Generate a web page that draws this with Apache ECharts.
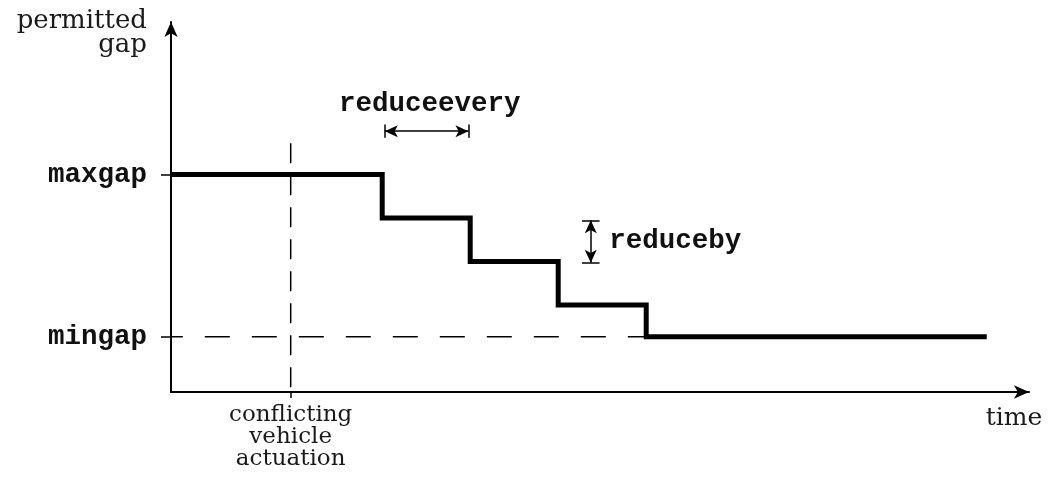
<!DOCTYPE html>
<html><head><meta charset="utf-8">
<script src="https://cdn.jsdelivr.net/npm/echarts@6/dist/echarts.min.js"></script>
<style>html,body{margin:0;padding:0;background:#fff}#c{width:1053px;height:479px}</style>
</head><body><div id="c"></div>
<script>
// ---- data ----
const stepTimes = [0, 2.4, 3.4, 4.4, 5.4, 9.27];
const gapLevels = [5, 4, 3, 2, 1.27, 1.27];
const maxgap = 5;
const mingap = 1.27;
const conflictTime = 1.36;
const yTickValues = [1.27, 5];
const yTickLabels = {'1.27': 'mingap', '5': 'maxgap'};
const xTickValues = [1.36];
const xTickLabels = ['conflicting\nvehicle\nactuation'];
const reduceEveryRange = [2.43, 3.38];
const reduceEveryY = 6.0;
const reduceByX = 4.77;
const reduceByRange = [3.95, 2.97];
const annotations = [
  {name: 'reduceevery', value: [2.94, 6.62], pos: 'inside'},
  {name: 'reduceby', value: [4.98, 3.47], pos: 'right'}
];

const mono = '"Liberation Mono", "DejaVu Sans Mono", monospace';
const serif = '"DejaVu Serif", "Liberation Serif", serif';

const stepData = stepTimes.map((t, i) => [t, gapLevels[i]]);

const chart = echarts.init(document.getElementById('c'), null, {renderer: 'canvas'});
chart.setOption({
  animation: false,
  backgroundColor: '#ffffff',
  grid: {left: 171, right: 24, top: 22, bottom: 87},
  xAxis: {
    type: 'value', min: 0, max: 9.75,
    splitLine: {show: false},
    axisLine: {show: true, onZero: false, symbol: ['none', 'arrow'], symbolSize: [10, 15], lineStyle: {color: '#000', width: 2}},
    axisTick: {show: true, customValues: xTickValues, length: 6, lineStyle: {color: '#000', width: 1.5}},
    axisLabel: {
      show: true, customValues: xTickValues, margin: 12,
      formatter: () => xTickLabels[0],
      fontFamily: serif, fontSize: 23, lineHeight: 22, color: '#1a1a1a'
    },
    name: 'time', nameLocation: 'end', nameGap: -15,
    nameTextStyle: {fontFamily: serif, fontSize: 25, color: '#1a1a1a', align: 'center', verticalAlign: 'top', padding: [14, 0, 0, 0]}
  },
  yAxis: {
    type: 'value', min: 0, max: 8.51,
    splitLine: {show: false},
    axisLine: {show: true, onZero: false, symbol: ['none', 'arrow'], symbolSize: [10, 15], lineStyle: {color: '#000', width: 2}},
    axisTick: {show: true, customValues: yTickValues, length: 10, lineStyle: {color: '#000', width: 1.5}},
    axisLabel: {
      show: true, customValues: yTickValues, margin: 24,
      formatter: v => yTickLabels[String(v)],
      fontFamily: mono, fontWeight: 'bold', fontSize: 27.5, color: '#111'
    },
    name: 'permitted\ngap', nameLocation: 'end', nameGap: -11,
    nameTextStyle: {fontFamily: serif, fontSize: 26, lineHeight: 24, color: '#1a1a1a', align: 'right', verticalAlign: 'middle', padding: [0, 24, 0, 0]}
  },
  series: [
    {
      type: 'line', clip: false, data: [[-0.15, mingap], [stepTimes[4], mingap]],
      symbol: 'none', lineStyle: {color: '#000', width: 1.5, type: [25, 22]}, z: 1
    },
    {
      type: 'line', clip: false, data: [[conflictTime, 5.72], [conflictTime, 0]],
      symbol: 'none', lineStyle: {color: '#000', width: 1.5, type: [20, 12]}, z: 1
    },
    {
      type: 'line', data: stepData, step: 'end',
      symbol: 'none', lineStyle: {color: '#000', width: 5, join: 'miter', cap: 'butt'}, z: 3,
      markLine: {
        silent: true, animation: false,
        label: {show: false},
        lineStyle: {color: '#000', width: 1.5, type: 'solid'},
        symbol: ['none', 'none'],
        data: [
          [{coord: [reduceEveryRange[0], reduceEveryY], symbol: 'arrow', symbolSize: [9, 13]}, {coord: [reduceEveryRange[1], reduceEveryY], symbol: 'arrow', symbolSize: [9, 13]}],
          [{coord: [reduceEveryRange[0], reduceEveryY - 0.15]}, {coord: [reduceEveryRange[0], reduceEveryY + 0.15]}],
          [{coord: [reduceEveryRange[1], reduceEveryY - 0.15]}, {coord: [reduceEveryRange[1], reduceEveryY + 0.15]}],
          [{coord: [reduceByX, reduceByRange[0]], symbol: 'arrow', symbolSize: [9, 13]}, {coord: [reduceByX, reduceByRange[1]], symbol: 'arrow', symbolSize: [9, 13]}],
          [{coord: [reduceByX - 0.1, reduceByRange[0]]}, {coord: [reduceByX + 0.1, reduceByRange[0]]}],
          [{coord: [reduceByX - 0.1, reduceByRange[1]]}, {coord: [reduceByX + 0.1, reduceByRange[1]]}]
        ]
      }
    },
    {
      type: 'scatter', symbolSize: 0, silent: true,
      itemStyle: {opacity: 1, color: '#111'},
      data: annotations.map(a => ({name: a.name, value: a.value, label: {position: a.pos, distance: 0}})),
      label: {show: true, formatter: p => p.name, fontFamily: mono, fontWeight: 'bold', fontSize: 27.5, color: '#111', opacity: 1, textBorderWidth: 0}
    }
  ]
});
</script></body></html>
